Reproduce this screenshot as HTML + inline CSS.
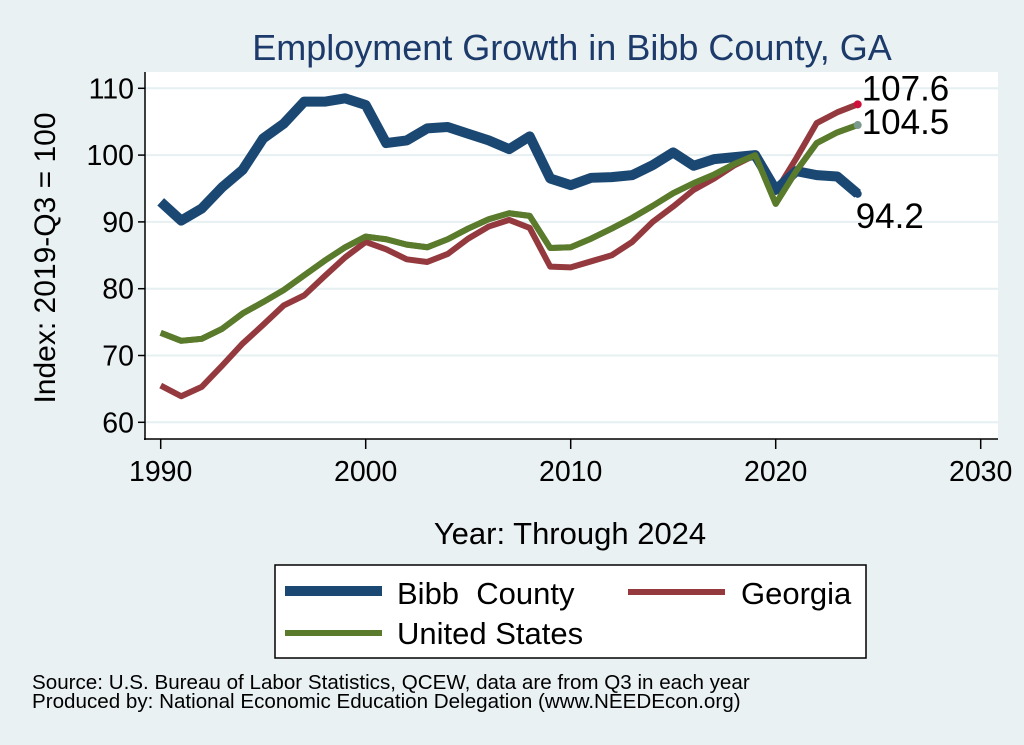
<!DOCTYPE html>
<html><head><meta charset="utf-8"><style>
body{margin:0;background:#eaf1f3;}
svg{display:block;font-family:"Liberation Sans",Arial,sans-serif;}
</style></head><body>
<svg id="chart" width="1024" height="745">
<rect x="0" y="0" width="1024" height="745" fill="#eaf1f3"/>
<text x="572" y="60" font-size="36" fill="#1c3a6a" text-anchor="middle">Employment Growth in Bibb County, GA</text>
<rect x="145" y="72" width="853" height="367" fill="#fff"/>
<g id="grid"></g>
<g id="axes"></g>
<g id="series"></g>
<text transform="translate(55,258) rotate(-90)" font-size="30" text-anchor="middle" fill="#000">Index: 2019-Q3 = 100</text>
<text x="570" y="544" font-size="31" text-anchor="middle" fill="#000">Year: Through 2024</text>
<g>
<rect x="275" y="565" width="591" height="93" fill="#fff" stroke="#000" stroke-width="1.5"/>
<g><rect x="285" y="586" width="97" height="10" fill="#1b4872"/><text x="397" y="604" font-size="31" xml:space="preserve">Bibb  County</text></g>
<g><rect x="628" y="589" width="97" height="6" fill="#943a3f"/><text x="741" y="604" font-size="31">Georgia</text></g>
<g><rect x="285" y="630" width="97" height="6" fill="#5a7b2c"/><text x="397" y="644" font-size="31">United States</text></g>
</g>
<text x="32" y="689" font-size="20.6">Source: U.S. Bureau of Labor Statistics, QCEW, data are from Q3 in each year</text>
<text x="32" y="708" font-size="20.6">Produced by: National Economic Education Delegation (www.NEEDEcon.org)</text>
</svg>
<script>
const years=[];for(let y=1990;y<=2024;y++)years.push(y);
const bibb=[93,90.2,92,95.2,97.8,102.5,104.7,108,108,108.5,107.5,101.8,102.2,104,104.2,103.2,102.2,100.9,102.8,96.5,95.5,96.6,96.7,97,98.5,100.4,98.4,99.4,99.7,100,94.8,97.6,97,96.8,94.2];
const georgia=[65.5,63.9,65.3,68.5,71.8,74.6,77.5,79,81.9,84.7,87,85.9,84.4,84,85.2,87.5,89.3,90.3,89.1,83.3,83.2,84.1,85,87,90,92.3,94.8,96.5,98.5,100,94.5,99.5,104.8,106.4,107.6];
const us=[73.4,72.2,72.5,74,76.3,78,79.8,82,84.2,86.2,87.8,87.4,86.6,86.2,87.4,89,90.4,91.3,90.9,86.1,86.2,87.5,89,90.6,92.4,94.3,95.8,97.1,98.7,100,92.7,97.6,101.8,103.4,104.5];
const yTicks=[60,70,80,90,100,110];
const xTicks=[1990,2000,2010,2020,2030];
const NS="http://www.w3.org/2000/svg";
const X=v=>160.7+(v-1990)*20.5;
const Y=v=>422.3-(v-60)*6.68;
function mk(tag,attrs,parent,text){const e=document.createElementNS(NS,tag);for(const k in attrs)e.setAttribute(k,attrs[k]);if(text!==undefined)e.textContent=text;parent.appendChild(e);return e;}
const grid=document.getElementById('grid'),axes=document.getElementById('axes'),ser=document.getElementById('series');
yTicks.forEach(t=>{
 const g=mk('line',{x1:145,x2:998,y1:Y(t),y2:Y(t),stroke:'#e6eff1','stroke-width':2},grid);
 
 
 mk('line',{x1:138,x2:145,y1:Y(t),y2:Y(t),stroke:'#000','stroke-width':1.5},axes);
 const l=mk('text',{x:134,y:Y(t)+10,'font-size':28.5,'text-anchor':'end'},axes,t);
 
 
});
xTicks.forEach(t=>{
 mk('line',{x1:X(t),x2:X(t),y1:439,y2:449,stroke:'#000','stroke-width':1.5},axes);
 const l=mk('text',{x:X(t),y:481,'font-size':28.5,'text-anchor':'middle'},axes,t);
 
 
});
mk('line',{x1:145,x2:145,y1:72,y2:440,stroke:'#000','stroke-width':1.5},axes);
mk('line',{x1:144,x2:998,y1:439,y2:439,stroke:'#000','stroke-width':1.5},axes);
function line(data,color,w,name){
 const p=mk('polyline',{points:data.map((v,i)=>X(years[i])+','+Y(v)).join(' '),fill:'none',stroke:color,'stroke-width':w,'stroke-linejoin':'round'},ser);
 
 
}
line(us,'#5a7b2c',6,'us-line');
line(georgia,'#943a3f',6,'georgia-line');
line(bibb,'#1b4872',10,'bibb-line');
line(us,'#5a7b2c',6,'us-line-overlay');
const last=years.length-1;
[[georgia,'#d0103a'],[us,'#7a9a8c'],[bibb,'#1b4872']].forEach((s,i)=>{
 const d=s[0];
 const c=mk('circle',{cx:X(years[last]),cy:Y(d[last]),r:4,fill:s[1]},ser);
 
 
});
const labs=[[georgia,-4,'end-label-georgia'],[us,9,'end-label-us'],[bibb,34,'end-label-bibb']];
labs.forEach(l=>{
 const v=l[0][last];
 const t=mk('text',{x:X(years[last])+(l[2]==='end-label-bibb'?-2:4),y:Y(v)+l[1],'font-size':35},ser,v.toFixed(1));
 
 
});
</script>
</body></html>
